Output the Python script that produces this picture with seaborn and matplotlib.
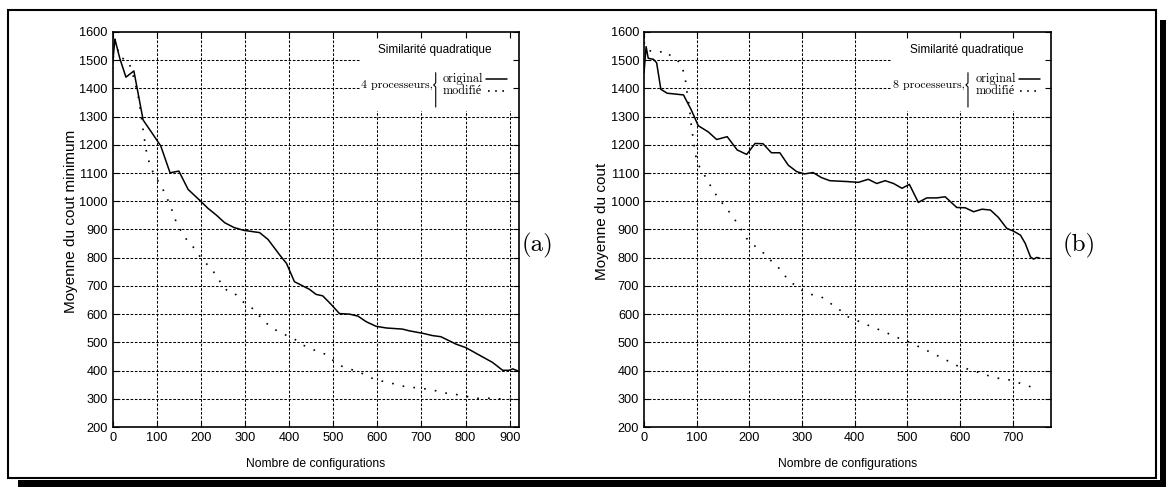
import numpy as np
import pandas as pd
import matplotlib
matplotlib.use("Agg")
import matplotlib.pyplot as plt
import seaborn as sns
from matplotlib import font_manager as fm
from matplotlib.patches import Rectangle
from matplotlib.lines import Line2D

# ---------------- data ----------------
# (a) 4 processeurs
A_ORIG_X = [0, 5, 16, 30, 48, 69, 90, 109, 130, 150, 171, 197, 216, 235, 254, 275, 297, 333,
            352, 379, 394, 412, 431, 446, 461, 476, 495, 514, 537, 556, 575, 597, 620, 657,
            672, 703, 725, 744, 778, 801, 831, 861, 884, 899, 907, 918]
A_ORIG_Y = [1490, 1575, 1507, 1440, 1462, 1288, 1240, 1196, 1101, 1107, 1042, 1004, 975, 951,
            924, 907, 897, 889, 865, 809, 780, 715, 700, 688, 670, 665, 635, 602, 600, 593,
            573, 557, 551, 547, 541, 532, 524, 520, 494, 481, 455, 429, 401, 401, 406, 399]
A_MOD_X = [0, 4, 16, 28, 35, 43, 50, 58, 64, 70, 76, 84, 95, 108, 119, 130, 145, 156, 171,
           182, 197, 210, 224, 237, 248, 262, 277, 292, 307, 322, 337, 352, 367, 382, 401,
           416, 431, 446, 465, 483, 499, 514, 533, 552, 563, 582, 601, 618, 635, 654, 669,
           688, 703, 722, 740, 759, 777, 793, 808, 823, 842, 861, 884, 906, 918]
A_MOD_Y = [1470, 1580, 1510, 1503, 1497, 1465, 1424, 1371, 1310, 1240, 1180, 1130, 1090,
           1060, 1026, 987, 922, 892, 856, 839, 806, 783, 760, 732, 703, 679, 673, 647, 632,
           614, 585, 563, 546, 534, 519, 508, 490, 482, 466, 458, 437, 419, 407, 399, 392,
           376, 366, 360, 354, 346, 342, 339, 336, 333, 325, 319, 316, 310, 307, 301, 303,
           301, 299, 298, 293]

# (b) 8 processeurs
B_ORIG_X = [0, 4, 8, 18, 24, 32, 44, 75, 90, 103, 122, 138, 158, 177, 195, 211, 226, 242,
            258, 274, 290, 305, 321, 337, 353, 385, 407, 426, 442, 458, 474, 490, 504, 521,
            537, 556, 572, 594, 610, 626, 642, 658, 673, 689, 702, 715, 724, 734, 740, 746, 752]
B_ORIG_Y = [1455, 1548, 1507, 1503, 1491, 1397, 1383, 1377, 1323, 1268, 1246, 1219, 1229,
            1182, 1166, 1205, 1204, 1172, 1172, 1128, 1105, 1097, 1102, 1084, 1073, 1070,
            1067, 1078, 1063, 1073, 1063, 1046, 1060, 996, 1012, 1012, 1016, 978, 977, 963,
            972, 969, 943, 904, 894, 880, 851, 803, 795, 801, 798]
B_MOD_X = [0, 5, 15, 27, 42, 52, 62, 71, 78, 81, 86, 89, 92, 97, 103, 113, 122, 131, 142,
           153, 164, 175, 185, 195, 208, 221, 233, 245, 257, 268, 281, 294, 309, 323, 337,
           350, 363, 377, 388, 401, 429, 457, 485, 505, 536, 568, 599, 624, 650, 675, 697,
           719, 745]
B_MOD_Y = [1565, 1540, 1530, 1528, 1533, 1512, 1503, 1483, 1441, 1394, 1340, 1280, 1240,
           1170, 1130, 1099, 1069, 1040, 1008, 984, 957, 928, 899, 868, 845, 827, 806, 782,
           762, 735, 711, 691, 675, 667, 661, 644, 626, 608, 590, 580, 558, 537, 514, 500,
           472, 443, 413, 401, 384, 372, 366, 352, 336]

A_XTICKS = [0, 100, 200, 300, 400, 500, 600, 700, 800, 900]
B_XTICKS = [0, 100, 200, 300, 400, 500, 600, 700]
YTICKS = [200, 300, 400, 500, 600, 700, 800, 900, 1000, 1100, 1200, 1300, 1400, 1500, 1600]

TITLE = "Similarité quadratique"
XLABEL = "Nombre de configurations"
A_YLABEL = "Moyenne du cout minimum"
B_YLABEL = "Moyenne du cout"
A_PROC = "4 processeurs,"
B_PROC = "8 processeurs,"
ENTRIES = ["original", "modifié"]
PANELS = ["(a)", "(b)"]

# ---------------- style ----------------
sns.set_theme(style="white", rc={
    "axes.edgecolor": "black", "text.color": "black", "xtick.color": "black",
    "ytick.color": "black", "axes.labelcolor": "black", "axes.linewidth": 1.2,
})
names = {f.name for f in fm.fontManager.ttflist}
NARROW = "Liberation Sans Narrow" in names
SANS_N = ["Liberation Sans Narrow", "DejaVu Sans"] if NARROW else ["Liberation Sans", "DejaVu Sans"]
SANS = ["Liberation Sans", "DejaVu Sans"]
SERIF = ["cmr10", "Liberation Serif", "DejaVu Serif"] if "cmr10" in names else ["Liberation Serif", "DejaVu Serif"]
plt.rcParams["font.family"] = SANS_N
TICK_FS = 10.0 if NARROW else 9.2
TITLE_FS = 10.0 if NARROW else 8.5
XLAB_FS = 10.0 if NARROW else 8.7

W, H = 1166, 487
fig = plt.figure(figsize=(W / 100, H / 100), dpi=100)
fig.patch.set_facecolor("white")

# frame with shadow
fig.patches.append(Rectangle((1160 / W, 0), 6 / W, 1 - 20 / H, transform=fig.transFigure,
                             facecolor="black", edgecolor="none", zorder=0))
fig.patches.append(Rectangle((18 / W, 0), 1 - 18 / W, 7 / H, transform=fig.transFigure,
                             facecolor="black", edgecolor="none", zorder=0))
fig.patches.append(Rectangle((8 / W, 1 - 478 / H), (1156 - 8) / W, (478 - 10) / H,
                             transform=fig.transFigure, fill=False, edgecolor="black",
                             linewidth=1.5, zorder=0))

axA = fig.add_axes([112.7 / W, 1 - 427 / H, 405.8 / W, 395 / H])
axB = fig.add_axes([644 / W, 1 - 427 / H, 407 / W, 395 / H])

DOT = (0, (1, 5.5))
GRID = (0, (2.5, 1.6))


def setup(ax, xmax, xticks, ylabel, proc, ox, oy, mx, my):
    ax.set_facecolor("white")
    ax.set_xlim(0, xmax)
    ax.set_ylim(200, 1600)
    ax.set_xticks(xticks)
    ax.set_yticks(YTICKS)
    ax.set_axisbelow(False)
    # grid
    ax.vlines([t for t in xticks if t > 0], 200, 1600, colors="black", linewidth=0.75,
              linestyles=GRID, zorder=0.8)
    ax.hlines([t for t in YTICKS if 200 < t < 1600], 0, xmax, colors="black", linewidth=0.75,
              linestyles=GRID, zorder=0.8)
    for s in ax.spines.values():
        s.set_visible(True)
        s.set_color("black")
        s.set_linewidth(1.2)
    ax.tick_params(direction="in", length=4, width=0.8, top=True, right=True,
                   bottom=True, left=True, labelsize=TICK_FS, pad=3.5)
    for lab in ax.get_xticklabels() + ax.get_yticklabels():
        lab.set_family(SANS_N)
    # data
    sns.lineplot(x=ox, y=oy, ax=ax, color="black", linewidth=1.1, sort=False,
                 estimator=None, zorder=2)
    sns.lineplot(x=mx, y=my, ax=ax, color="black", linewidth=1.2, linestyle=DOT,
                 sort=False, estimator=None, zorder=2)
    # labels
    ax.set_xlabel(XLABEL, fontsize=XLAB_FS, family=SANS_N)
    ax.xaxis.set_label_coords(0.5, -0.078)
    ax.set_ylabel(ylabel, fontsize=11, family=SANS)
    ax.yaxis.set_label_coords(-0.086, 0.52)
    # key
    ax.add_patch(Rectangle((0.609, 0.905), 0.391, 0.095, transform=ax.transAxes,
                           facecolor="white", edgecolor="none", zorder=1))
    ax.add_patch(Rectangle((0.64, 0.80), 0.36, 0.106, transform=ax.transAxes,
                           facecolor="white", edgecolor="none", zorder=1))
    ax.text(0.793, 0.954, TITLE, transform=ax.transAxes, ha="center", va="center",
            fontsize=TITLE_FS, family=SANS_N, zorder=3)
    ax.text(0.789, 0.866, proc, transform=ax.transAxes, ha="right", va="center",
            fontsize=8.6, family=SERIF, zorder=3,
            bbox=dict(facecolor="white", edgecolor="none", pad=0.6))
    ax.add_line(Line2D([0.796, 0.796, 0.791, 0.796, 0.796],
                       [0.897, 0.871, 0.866, 0.861, 0.810], transform=ax.transAxes,
                       color="black", linewidth=0.8, zorder=3))
    ax.text(0.814, 0.882, ENTRIES[0], transform=ax.transAxes, ha="left", va="center",
            fontsize=8.8, family=SERIF, zorder=3)
    ax.text(0.814, 0.851, ENTRIES[1], transform=ax.transAxes, ha="left", va="center",
            fontsize=8.8, family=SERIF, zorder=3)
    ax.add_line(Line2D([0.921, 0.972], [0.880, 0.880], transform=ax.transAxes,
                       color="black", linewidth=1.1, zorder=3))
    ax.add_line(Line2D([0.924, 0.966], [0.850, 0.850], transform=ax.transAxes,
                       color="black", linewidth=1.2, linestyle=(0, (1, 3.3)), zorder=3))


setup(axA, 920, A_XTICKS, A_YLABEL, A_PROC, A_ORIG_X, A_ORIG_Y, A_MOD_X, A_MOD_Y)
setup(axB, 773, B_XTICKS, B_YLABEL, B_PROC, B_ORIG_X, B_ORIG_Y, B_MOD_X, B_MOD_Y)

fig.text(522 / W, 1 - 245 / H, PANELS[0], fontsize=18, family=SERIF, ha="left", va="center")
fig.text(1063 / W, 1 - 245 / H, PANELS[1], fontsize=18, family=SERIF, ha="left", va="center")

fig.savefig("out.png", dpi=100, facecolor="white")
